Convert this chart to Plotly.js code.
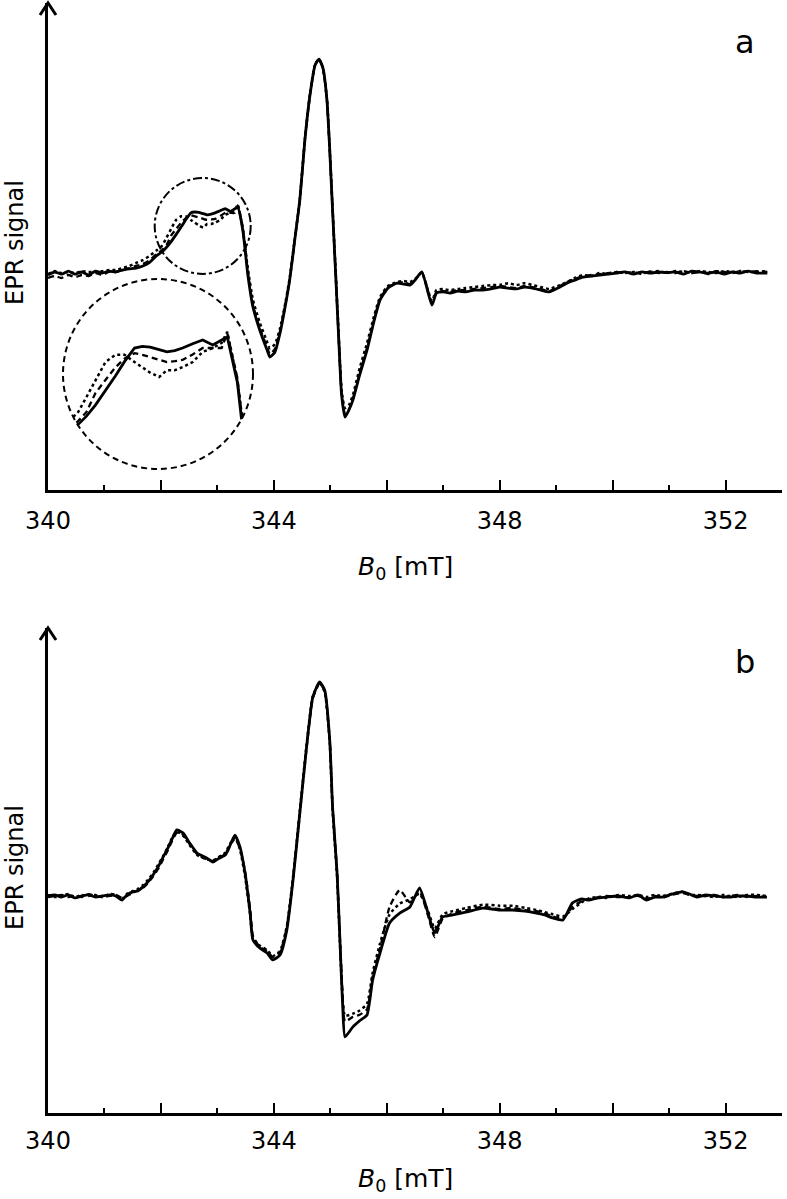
<!DOCTYPE html>
<html>
<head>
<meta charset="utf-8">
<script src="https://cdn.plot.ly/plotly-3.0.1.min.js"></script>
<style>
  html, body { margin: 0; padding: 0; background: #fff; }
  #chart { width: 787px; height: 1199px; }
</style>
</head>
<body>
<div id="chart"></div>
<script>
// magnetic field B0 [mT], panel a
const fieldA = [
  340.00, 340.12, 340.24, 340.36, 340.48, 340.60, 340.72, 340.84, 340.96, 341.08,
  341.20, 341.32, 341.44, 341.56, 341.68, 341.80, 341.92,
  342.02, 342.10, 342.18, 342.27, 342.36, 342.44, 342.53,
  342.60, 342.67, 342.75, 342.82, 342.89, 342.96,
  343.05, 343.14, 343.23, 343.31, 343.36, 343.45, 343.54,
  343.63, 343.75, 343.88, 343.93,
  344.02, 344.11, 344.19, 344.28, 344.37, 344.46, 344.55, 344.64, 344.73,
  344.80, 344.87, 344.94, 344.99, 345.04, 345.10, 345.15, 345.20, 345.26, 345.33, 345.40,
  345.52, 345.65, 345.77, 345.88, 346.02, 346.18, 346.30, 346.41, 346.50, 346.62, 346.80, 346.88,
  347.00, 347.12, 347.26, 347.40, 347.55, 347.70, 347.85,
  348.00, 348.15, 348.30, 348.44, 348.58, 348.73, 348.88, 349.03, 349.19, 349.33,
  349.47, 349.62, 349.77, 349.92, 350.07, 350.22, 350.37, 350.52, 350.67, 350.82,
  350.96, 351.11, 351.26, 351.40, 351.54, 351.69, 351.83, 351.98, 352.12, 352.26, 352.40, 352.55, 352.74
];
// EPR signal, % of the main peak
const solidA = [
  -0.9, 0.5, -0.5, 0.9, -0.5, 0.5, -0.9, 0.9, 0.0, 0.9,
  0.5, 1.4, 1.9, 2.3, 3.3, 5.0, 8.0,
  9.9, 12.0, 14.6, 18.0, 21.5, 24.8, 28.0,
  28.4, 28.2, 27.6, 27.1, 27.4, 28.0,
  29.0, 29.9, 28.7, 29.9, 30.6, 20.0, -0.9,
  -15.8, -26.5, -35.8, -39.1,
  -36.7, -27.9, -17.2, -3.3, 15.3, 34.0, 61.9, 82.8, 96.7,
  99.5, 95.3, 80.5, 57.2, 29.3, -3.3, -31.2, -56.7, -67.0, -63.7, -59.1,
  -47.4, -35.8, -22.8, -12.6, -7.0, -4.7, -5.1, -5.6, -3.3, 0.5, -14.9, -9.3,
  -8.8, -9.3, -8.4, -8.8, -7.9, -7.9, -7.4,
  -6.5, -7.0, -7.4, -6.5, -7.0, -7.9, -8.8, -7.0, -4.7, -3.3,
  -1.9, -1.4, -0.9, -0.5, 0.0, 0.5, -0.5, 0.5, 0.0, 0.5,
  0.2, 0.5, -0.5, 0.9, 0.5, 0.0, 0.5, -0.5, 0.5, 0.0, 0.9, 0.0, 0.0
];
const dashedA = [
  -2.3, -1.4, -2.3, -0.9, -1.9, -0.9, -1.4, 0.0, -0.9, 0.5,
  0.5, 1.4, 2.3, 3.3, 4.2, 6.0, 8.8,
  10.7, 13.0, 17.4, 20.5, 23.5, 25.5, 26.8,
  26.4, 25.9, 25.2, 24.7, 24.9, 25.2,
  26.5, 28.0, 28.0, 28.0, 31.5, 21.0, 0.5,
  -14.9, -25.6, -34.4, -37.7,
  -35.3, -27.0, -16.7, -3.3, 15.3, 34.0, 61.9, 82.8, 96.7,
  99.5, 95.3, 80.5, 57.2, 29.3, -3.3, -30.7, -55.8, -65.6, -63.3, -58.6,
  -46.5, -34.9, -22.3, -12.1, -6.5, -4.7, -4.2, -5.1, -3.3, 0.5, -14.0, -8.8,
  -8.4, -8.8, -7.9, -7.9, -7.4, -7.0, -6.5,
  -6.0, -6.5, -7.0, -6.0, -6.5, -7.4, -8.4, -6.5, -4.2, -2.8,
  -1.4, -0.9, -0.5, 0.0, 0.5, 0.0, 0.5, -0.5, 0.9, 0.0,
  0.5, 0.0, 0.9, 0.0, 0.5, -0.5, 0.9, 0.5, 0.0, 0.9, 0.5, 0.9, 0.5
];
const dottedA = [
  -0.5, 0.9, 0.0, 0.5, 0.0, 0.9, 0.5, 0.5, 0.9, 1.4,
  1.4, 2.3, 3.3, 4.7, 6.0, 8.0, 10.5,
  12.7, 16.5, 20.5, 24.7, 26.4, 26.4, 24.7,
  23.5, 22.2, 21.2, 22.8, 22.8, 23.5,
  24.7, 27.1, 28.0, 29.2, 31.8, 20.5, 2.0,
  -12.5, -23.0, -32.0, -35.0,
  -33.0, -25.6, -15.8, -2.3, 15.8, 34.4, 62.3, 83.3, 97.0,
  99.5, 95.3, 80.9, 57.7, 30.0, -2.3, -29.8, -54.4, -62.8, -61.4, -56.7,
  -44.2, -32.6, -20.5, -11.2, -6.0, -4.2, -3.7, -4.2, -2.8, 0.0, -13.0, -7.9,
  -7.4, -8.0, -7.4, -7.0, -6.5, -6.0, -5.6,
  -5.6, -4.7, -5.6, -4.7, -5.6, -6.5, -7.4, -6.0, -4.2, -2.3,
  -0.9, -1.4, 0.0, -0.5, 0.5, 0.0, 0.5, 0.0, 0.5, 0.9,
  0.0, 0.9, 0.5, 0.0, 0.9, 0.5, 0.0, 0.9, 0.5, 0.9, 0.5, 0.5, 0.9
];

// panel b
const fieldB = [
  340.00, 340.12, 340.24, 340.36, 340.48, 340.60, 340.72, 340.84, 340.96, 341.10,
  341.20, 341.31, 341.40, 341.50, 341.59, 341.68, 341.77, 341.86, 341.95, 342.04,
  342.12, 342.19, 342.28, 342.39, 342.51, 342.64, 342.81, 342.92, 343.00, 343.08,
  343.14, 343.19, 343.31, 343.40, 343.49, 343.58, 343.63, 343.75, 343.88, 343.98,
  344.11, 344.23, 344.34, 344.46, 344.58, 344.69, 344.81, 344.90, 344.99, 345.04,
  345.12, 345.17, 345.22, 345.26, 345.40, 345.52, 345.65, 345.75, 345.88, 346.05,
  346.23, 346.41, 346.58, 346.73, 346.85, 346.99, 347.17, 347.42, 347.70, 348.00,
  348.23, 348.45, 348.65, 348.80, 348.94, 349.12, 349.29, 349.45, 349.59, 349.75,
  349.89, 350.10, 350.30, 350.45, 350.60, 350.75, 350.88, 351.05, 351.24, 351.36,
  351.49, 351.65, 351.80, 351.95, 352.07, 352.22, 352.38, 352.55, 352.73
];
const solidB = [
  0.0, 0.5, -0.5, 0.5, -0.9, 0.0, 0.5, -0.5, 0.0, 0.5,
  0.0, -1.9, 0.5, 1.9, 2.3, 4.2, 6.5, 9.7, 13.5, 18.1,
  22.0, 25.9, 30.6, 29.2, 24.5, 19.9, 17.6, 15.7, 17.0, 18.1,
  19.0, 21.3, 28.2, 22.7, 10.6, -7.9, -20.4, -24.1, -26.4, -29.6,
  -27.3, -15.7, 7.4, 38.4, 69.0, 92.1, 99.1, 95.4, 72.2, 41.2,
  10.6, -20.4, -51.4, -65.3, -60.6, -57.8, -55.1, -38.9, -26.4, -12.5,
  -7.9, -5.1, 3.7, -7.9, -17.1, -9.7, -8.8, -7.4, -5.6, -6.5,
  -6.5, -7.0, -7.9, -8.8, -10.2, -11.1, -3.2, -1.4, -1.9, -0.9,
  -0.5, 0.0, -0.9, 0.5, -1.9, -0.5, -0.5, 0.9, 1.9, 0.9,
  -0.5, 0.5, 0.0, -0.5, -0.5, 0.0, 0.0, -0.5, -0.5
];
const dashedB = [
  -0.5, 0.0, 0.5, -0.5, 0.0, -0.5, 0.9, 0.0, -0.5, 0.0,
  0.5, -0.9, 0.0, 1.4, 2.8, 3.7, 6.0, 9.0, 12.5, 17.0,
  21.0, 25.0, 29.2, 28.5, 24.0, 19.4, 17.0, 16.2, 17.0, 18.5,
  19.4, 21.8, 26.5, 22.0, 11.5, -6.0, -18.5, -23.6, -25.5, -28.2,
  -26.0, -14.5, 8.0, 38.0, 68.5, 91.5, 98.5, 95.0, 72.0, 41.5,
  11.0, -19.0, -47.0, -58.0, -56.0, -55.0, -52.5, -37.0, -24.5, -5.0,
  2.8, -3.0, 2.0, -9.0, -19.0, -10.5, -8.0, -6.5, -5.0, -6.0,
  -5.5, -6.5, -7.0, -8.0, -9.5, -10.5, -5.0, -2.5, -1.5, -0.5,
  0.0, -0.5, -0.5, 0.0, -1.5, 0.0, -0.9, 0.5, 1.4, 0.5,
  0.0, 0.0, 0.5, -0.5, 0.0, 0.5, -0.5, 0.0, -0.5
];
const dottedB = [
  0.5, -0.5, 0.0, 0.9, -0.5, 0.5, 0.0, 0.5, -0.5, 0.9,
  0.5, -1.4, 1.0, 2.3, 3.3, 5.0, 7.5, 10.5, 14.5, 18.5,
  22.5, 26.5, 29.8, 28.0, 23.5, 19.0, 17.0, 16.5, 17.5, 19.0,
  20.0, 22.5, 27.2, 21.5, 9.0, -8.5, -19.5, -23.0, -25.0, -27.8,
  -25.5, -14.0, 8.8, 39.5, 70.0, 92.5, 98.6, 94.5, 71.0, 40.0,
  9.0, -21.0, -48.5, -55.5, -54.5, -53.0, -50.0, -35.5, -22.0, -8.5,
  -3.5, -1.5, 1.0, -7.0, -15.0, -8.5, -7.0, -5.5, -4.0, -4.5,
  -4.5, -5.5, -6.5, -7.5, -8.5, -9.5, -6.0, -3.0, -1.0, -0.5,
  -0.9, 0.5, 0.0, 0.5, -0.5, 0.5, 0.0, 1.0, 2.0, 0.5,
  0.5, 0.0, -0.5, 0.5, 0.0, -0.5, 0.5, 0.5, 0.0
];

const labelTicks = [340, 344, 348, 352];   // labelled ticks
const plainTicks = [342, 346, 350];        // long ticks without label

// zoomed region of panel a (centre and half-sizes in data units)
const zoomCenter = [342.74, 21.9];
const zoomHalf = [0.85, 22.3];

const W = 787, H = 1199;
const px = x => x / W;
const py = y => 1 - y / H;
const FONT = 'DejaVu Sans, Verdana, sans-serif';

// keep only the part of a curve that lies inside the zoom circle
function clipToCircle(xs, ys) {
  const d = (x, y) => ((x - zoomCenter[0]) / zoomHalf[0]) ** 2 + ((y - zoomCenter[1]) / zoomHalf[1]) ** 2;
  const ox = [], oy = [];
  for (let i = 0; i < xs.length; i++) {
    const inA = d(xs[i], ys[i]) <= 1;
    if (inA) { ox.push(xs[i]); oy.push(ys[i]); }
    if (i + 1 < xs.length) {
      const inB = d(xs[i + 1], ys[i + 1]) <= 1;
      if (inA !== inB) {
        let lo = 0, hi = 1;
        for (let k = 0; k < 30; k++) {
          const t = (lo + hi) / 2;
          const isIn = d(xs[i] + t * (xs[i + 1] - xs[i]), ys[i] + t * (ys[i + 1] - ys[i])) <= 1;
          if (isIn === inA) lo = t; else hi = t;
        }
        ox.push(xs[i] + lo * (xs[i + 1] - xs[i]));
        oy.push(ys[i] + lo * (ys[i + 1] - ys[i]));
        if (inA) { ox.push(null); oy.push(null); }
      }
    }
  }
  return [ox, oy];
}

const styles = [
  { color: '#000', width: 2.8, dash: 'solid' },
  { color: '#000', width: 2.3, dash: '6px,4px' },
  { color: '#000', width: 2.5, dash: 'dot' }
];

function trace(x, y, st, xa, ya, smooth) {
  const line = Object.assign({}, st);
  if (smooth) { line.shape = 'spline'; line.smoothing = 0.5; }
  return { x: x, y: y, type: 'scatter', mode: 'lines', line: line, xaxis: xa, yaxis: ya,
           showlegend: false, hoverinfo: 'skip' };
}

const data = [];
[solidA, dashedA, dottedA].forEach((s, i) => data.push(trace(fieldA, s, styles[i], 'x', 'y', true)));
[solidB, dashedB, dottedB].forEach((s, i) => data.push(trace(fieldB, s, styles[i], 'x2', 'y2', true)));
[solidA, dashedA, dottedA].forEach((s, i) => {
  const c = clipToCircle(fieldA, s);
  data.push(trace(c[0], c[1], styles[i], 'x3', 'y3', false));
});
// empty traces so the overlay tick axes get drawn
data.push({ x: [], y: [], type: 'scatter', mode: 'lines', xaxis: 'x4', yaxis: 'y', showlegend: false });
data.push({ x: [], y: [], type: 'scatter', mode: 'lines', xaxis: 'x5', yaxis: 'y2', showlegend: false });

function xAxis(anchor, standoff) {
  return {
    domain: [px(48), px(782)], anchor: anchor, range: [340, 353],
    showline: true, linewidth: 3, linecolor: '#000', mirror: false,
    showgrid: false, zeroline: false,
    tickmode: 'array', tickvals: labelTicks,
    ticks: 'inside', ticklen: 10, tickwidth: 2, tickcolor: '#000',
    ticklabelstandoff: standoff,
    minor: { ticks: 'inside', dtick: 1, tick0: 340, ticklen: 5, tickwidth: 2, tickcolor: '#000', showgrid: false },
    tickfont: { family: FONT, size: 24, color: '#000' },
    fixedrange: true
  };
}
function tickAxis(base, anchor) {
  return {
    overlaying: base, anchor: anchor, side: 'bottom', range: [340, 353],
    showline: false, showgrid: false, zeroline: false, showticklabels: false,
    tickmode: 'array', tickvals: plainTicks,
    ticks: 'inside', ticklen: 10, tickwidth: 2, tickcolor: '#000', fixedrange: true
  };
}
function yAxis(anchor, top, bottom, range) {
  return {
    domain: [py(bottom), py(top)], anchor: anchor, range: range,
    showline: true, linewidth: 3, linecolor: '#000',
    showgrid: false, zeroline: false, ticks: '', showticklabels: false,
    fixedrange: true
  };
}

function arrow(tipY) {
  return {
    type: 'path', xref: 'paper', yref: 'paper',
    path: 'M ' + px(40) + ' ' + py(tipY + 12) + ' L ' + px(48) + ' ' + py(tipY) + ' L ' + px(56) + ' ' + py(tipY + 12),
    line: { color: '#000', width: 3 }
  };
}

function label(text, x, y, size, angle) {
  return { text: text, xref: 'paper', yref: 'paper', x: px(x), y: py(y),
           xanchor: 'center', yanchor: 'middle', textangle: angle || 0, showarrow: false,
           font: { family: FONT, size: size, color: '#000' } };
}

const layout = {
  width: W, height: H,
  margin: { l: 0, r: 0, t: 0, b: 0 },
  paper_bgcolor: '#fff', plot_bgcolor: 'rgba(0,0,0,0)',
  font: { family: FONT, color: '#000' },
  xaxis: xAxis('y', 7),
  yaxis: yAxis('x', 3, 490, [-100.9, 125.6]),
  xaxis2: xAxis('y2', 4),
  yaxis2: yAxis('x2', 628, 1113, [-100.5, 124.1]),
  xaxis3: { domain: [px(63), px(253)], anchor: 'y3', visible: false, fixedrange: true,
            range: [zoomCenter[0] - zoomHalf[0], zoomCenter[0] + zoomHalf[0]] },
  yaxis3: { domain: [py(469), py(279)], anchor: 'x3', visible: false, fixedrange: true,
            range: [zoomCenter[1] - zoomHalf[1], zoomCenter[1] + zoomHalf[1]] },
  xaxis4: tickAxis('x', 'y'),
  xaxis5: tickAxis('x2', 'y2'),
  shapes: [
    arrow(3), arrow(628),
    { type: 'circle', xref: 'x', yref: 'y',
      x0: zoomCenter[0] - zoomHalf[0], x1: zoomCenter[0] + zoomHalf[0],
      y0: zoomCenter[1] - zoomHalf[1], y1: zoomCenter[1] + zoomHalf[1],
      line: { color: '#000', width: 2, dash: 'dashdot' } },
    { type: 'circle', xref: 'x3 domain', yref: 'y3 domain', x0: 0, x1: 1, y0: 0, y1: 1,
      line: { color: '#000', width: 2, dash: '6px,4px' } }
  ],
  annotations: [
    label('a', 745, 42, 32),
    label('b', 745, 662, 32),
    label('EPR signal', 15, 243, 24, -90),
    label('EPR signal', 15, 868, 24, -90),
    label('<i>B</i><sub>0</sub> [mT]', 405, 568, 25),
    label('<i>B</i><sub>0</sub> [mT]', 405, 1180, 25)
  ]
};

Plotly.newPlot('chart', data, layout, { staticPlot: true, displayModeBar: false });
</script>
</body>
</html>
